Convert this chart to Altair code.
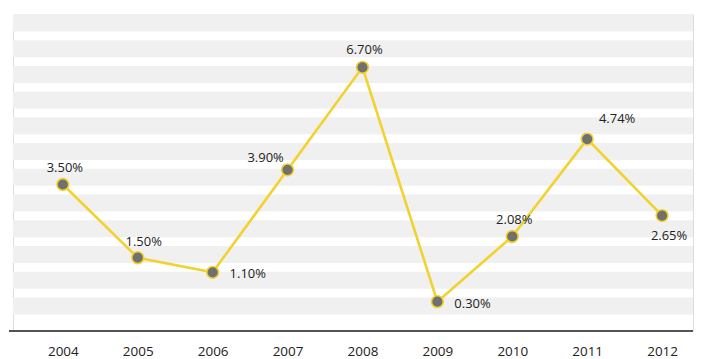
import altair as alt
import pandas as pd

# ---- data ----
years = [2004, 2005, 2006, 2007, 2008, 2009, 2010, 2011, 2012]
rates = [3.50, 1.50, 1.10, 3.90, 6.70, 0.30, 2.08, 4.74, 2.65]
label_place = ["top", "top2", "right", "topleft", "top", "right", "top", "topright", "bottom"]

df = pd.DataFrame({"year": years, "rate": rates, "place": label_place})

FONT = "Open Sans"
LINE = "#f2d22e"
DOT = "#707070"
TXT = "#222222"

# background stripes (decoration only), in value units
stripe_lo = [round(7.680 - 0.7026 * k, 3) for k in range(12)]
stripe_hi = [round(8.143 - 0.7026 * k, 3) for k in range(12)]
stripes = pd.DataFrame({"lo": stripe_lo, "hi": stripe_hi})

yscale = alt.Scale(domain=[-0.49, 8.143], nice=False, zero=False)
xscale = alt.Scale(domain=[2003.3344, 2012.4126], nice=False, zero=False)

x_enc = alt.X(
    "year:Q",
    scale=xscale,
    axis=alt.Axis(
        values=years, format="d", title=None, grid=False, ticks=False,
        domain=False, labelFont=FONT, labelFontSize=13.5,
        labelColor=TXT, labelPadding=14,
    ),
)
y_enc = alt.Y("rate:Q", scale=yscale, axis=None)

bands = alt.Chart(stripes).mark_rect(color="#f0f0f0").encode(
    y=alt.Y("lo:Q", scale=yscale, axis=None),
    y2="hi:Q",
    x=alt.value(0),
    x2=alt.value(682),
)

baseline = alt.Chart(stripes).mark_rule(color="#555555", strokeWidth=1.6).encode(
    x=alt.value(-4), x2=alt.value(682), y=alt.value(317.5)
)

base = alt.Chart(df).encode(x=x_enc, y=y_enc)

line = base.mark_line(color=LINE, strokeWidth=2.6)
dots = base.mark_circle(size=140, color=DOT, opacity=1, stroke=LINE, strokeWidth=1.6)

txt = base.transform_calculate(lbl="format(datum.rate, '.2f') + '%'")

offsets = {
    "top": dict(dx=2, dy=-17, align="center"),
    "top2": dict(dx=6, dy=-16, align="center"),
    "topleft": dict(dx=-22, dy=-12, align="center"),
    "topright": dict(dx=30, dy=-20, align="center"),
    "right": dict(dx=17, dy=2, align="left"),
    "bottom": dict(dx=7, dy=20, align="center"),
}
label_layers = []
for name, o in offsets.items():
    label_layers.append(
        txt.transform_filter(alt.datum.place == name)
        .mark_text(font=FONT, fontSize=13, color=TXT, baseline="middle", **o)
        .encode(text="lbl:N")
    )

chart = (
    alt.layer(bands, baseline, line, dots, *label_layers)
    .properties(width=682, height=317, padding={"left": 0, "top": 6, "right": 0, "bottom": 0})
    .configure_view(strokeWidth=0, stroke="transparent")
    .configure(background="white")
)

chart.save("out.html", embed_options={"renderer": "svg", "actions": False})
